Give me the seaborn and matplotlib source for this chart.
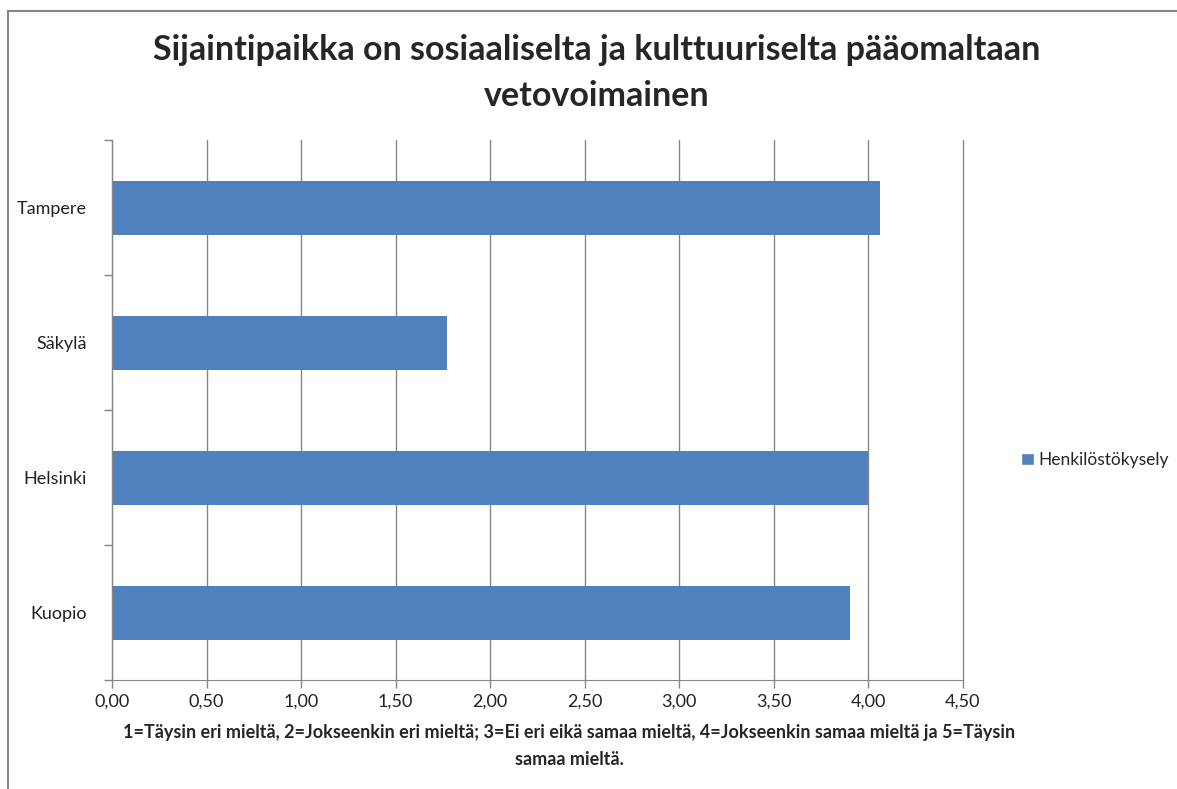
import numpy as np
import pandas as pd
import seaborn as sns
import matplotlib.pyplot as plt
from matplotlib.patches import Patch, Rectangle
from matplotlib.ticker import FuncFormatter, FixedLocator

# data
cities = ["Tampere", "Säkylä", "Helsinki", "Kuopio"]
scores = [4.06, 1.77, 4.00, 3.90]
series_name = "Henkilöstökysely"

title = "Sijaintipaikka on sosiaaliselta ja kulttuuriselta pääomaltaan\nvetovoimainen"
note = ("1=Täysin eri mieltä, 2=Jokseenkin eri mieltä; 3=Ei eri eikä samaa mieltä, "
        "4=Jokseenkin samaa mieltä ja 5=Täysin\nsamaa mieltä.")

df = pd.DataFrame({"city": cities, "score": scores, "series": series_name})

bar_color = "#4F81BD"
grid_color = "#868686"

sns.set_style("white")
plt.rcParams['font.family'] = ['Lato', 'DejaVu Sans']

fig = plt.figure(figsize=(11.77, 7.89), dpi=100)
ax = fig.add_axes([112 / 1177, 1 - 680 / 789, (963 - 112) / 1177, (680 - 140) / 789])

sns.barplot(data=df, x="score", y="city", orient="h", color=bar_color,
            width=0.4, ax=ax, saturation=1, linewidth=0)

ax.set_xlim(0, 4.5)
ax.set_ylim(len(cities) - 0.5, -0.5)
ax.set_xticks(np.arange(0, 4.51, 0.5))
ax.xaxis.set_major_formatter(FuncFormatter(lambda v, p: f"{v:.2f}".replace(".", ",")))
ax.grid(axis="x", color=grid_color, linewidth=1)
for gl in ax.get_xgridlines():
    gl.set_clip_on(False)
ax.set_axisbelow(True)

# category ticks sit between the bars
ax.yaxis.set_major_locator(FixedLocator(np.arange(len(cities))))
ax.yaxis.set_minor_locator(FixedLocator(np.arange(-0.5, len(cities), 1)))
ax.tick_params(axis="y", which="major", length=0, pad=18, labelsize=13, labelcolor="#222222")
ax.tick_params(axis="y", which="minor", length=6, color=grid_color, width=1, left=True)
ax.tick_params(axis="x", length=6, color=grid_color, width=1, bottom=True,
               labelsize=13, labelcolor="#222222", pad=4)

for side in ["top", "right"]:
    ax.spines[side].set_visible(False)
ax.spines["left"].set_color(grid_color)
ax.spines["bottom"].set_color(grid_color)
ax.set_xlabel("")
ax.set_ylabel("")

fig.text(597 / 1177, 1 - 73 / 789, title, ha="center", va="center",
         fontsize=24.5, fontweight="bold", linespacing=1.55)
fig.text(569 / 1177, 1 - 746 / 789, note, ha="center", va="center",
         fontsize=13, fontweight="bold", linespacing=1.7)

leg = fig.legend(handles=[Patch(facecolor=bar_color, label=series_name)],
                 loc="center left", bbox_to_anchor=(1005 / 1177, 1 - 460 / 789),
                 frameon=False, fontsize=12.5, handlelength=0.75, handleheight=0.75,
                 handletextpad=0.3)

# outer chart frame (only top and left edges visible in the picture)
fig.patches.append(Rectangle((8 / 1177, -0.1), 1.2, 1.1 - 11 / 789, transform=fig.transFigure,
                             fill=False, edgecolor=grid_color, linewidth=1.5))

fig.savefig("out.png", dpi=100)
